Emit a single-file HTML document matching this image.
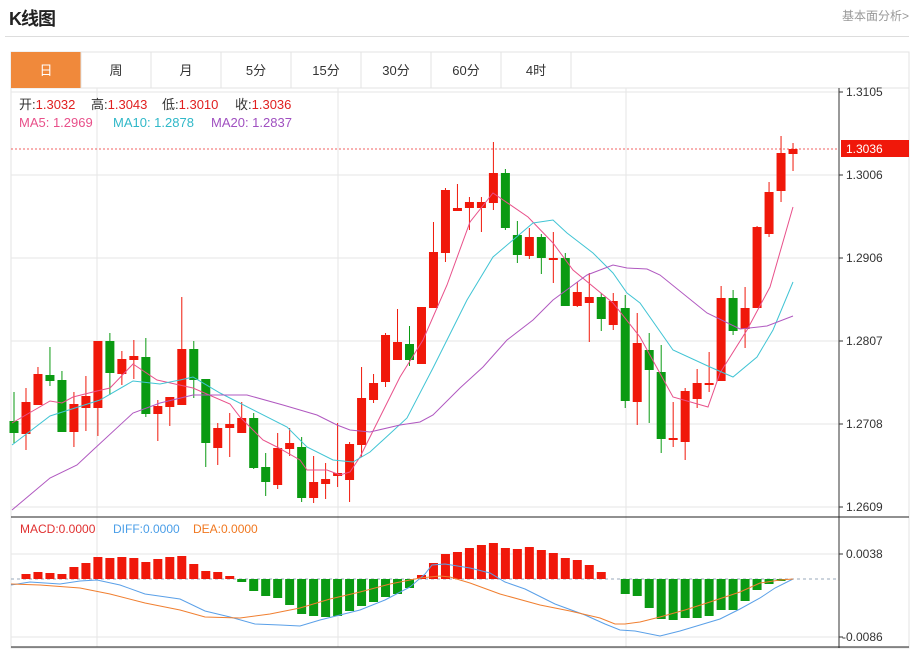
<!DOCTYPE html>
<html><head><meta charset="utf-8"><style>
html,body{margin:0;padding:0;background:#fff;width:919px;height:650px;overflow:hidden;font-family:"Liberation Sans","Noto Sans CJK SC",sans-serif;}
.t{position:absolute;}
</style></head><body>
<div class="t" style="left:9px;top:5px;font-size:18px;font-weight:bold;color:#222;letter-spacing:-1px">K线图</div>
<div class="t" style="left:842px;top:7px;font-size:12px;color:#999">基本面分析&gt;</div>
<div class="t" style="left:5px;top:36px;width:904px;height:1px;background:#ddd"></div>
<svg class="t" style="left:0;top:0" width="919" height="650" id="s" font-family="Liberation Sans, Noto Sans CJK SC, sans-serif">
<rect x="11" y="52" width="898" height="596" fill="none" stroke="#e3e3e3"/>
<line x1="11" y1="88" x2="909" y2="88" stroke="#e3e3e3"/>
<rect x="11" y="52" width="70" height="36" fill="#f0893b"/>
<g stroke="#e3e3e3"><line x1="151" y1="52" x2="151" y2="88"/><line x1="221" y1="52" x2="221" y2="88"/><line x1="291" y1="52" x2="291" y2="88"/><line x1="361" y1="52" x2="361" y2="88"/><line x1="431" y1="52" x2="431" y2="88"/><line x1="501" y1="52" x2="501" y2="88"/><line x1="571" y1="52" x2="571" y2="88"/><line x1="81" y1="52" x2="81" y2="88"/></g>
<g font-size="13" text-anchor="middle" fill="#333"><text x="46" y="75" fill="#fff">日</text><text x="116" y="75">周</text><text x="186" y="75">月</text><text x="256" y="75">5分</text><text x="326" y="75">15分</text><text x="396" y="75">30分</text><text x="466" y="75">60分</text><text x="536" y="75">4时</text></g>
<g stroke="#e6e6e6"><line x1="11" y1="92" x2="839" y2="92"/><line x1="11" y1="175" x2="839" y2="175"/><line x1="11" y1="258" x2="839" y2="258"/><line x1="11" y1="341" x2="839" y2="341"/><line x1="11" y1="424" x2="839" y2="424"/><line x1="11" y1="507" x2="839" y2="507"/>
<line x1="97" y1="88" x2="97" y2="648"/><line x1="338" y1="88" x2="338" y2="648"/><line x1="626" y1="88" x2="626" y2="648"/>
<line x1="11" y1="554" x2="839" y2="554"/><line x1="11" y1="637" x2="839" y2="637"/></g>
<line x1="11" y1="149" x2="839" y2="149" stroke="#f06060" stroke-dasharray="2,2"/>
<g id="c"></g>
<line x1="839" y1="88" x2="839" y2="648" stroke="#333"/>
<line x1="11" y1="517" x2="909" y2="517" stroke="#222"/>
<line x1="11" y1="647" x2="909" y2="647" stroke="#222"/>
<g stroke="#333"><line x1="839" y1="92" x2="843" y2="92"/><line x1="839" y1="175" x2="843" y2="175"/><line x1="839" y1="258" x2="843" y2="258"/><line x1="839" y1="341" x2="843" y2="341"/><line x1="839" y1="424" x2="843" y2="424"/><line x1="839" y1="507" x2="843" y2="507"/><line x1="839" y1="554" x2="843" y2="554"/><line x1="839" y1="637" x2="843" y2="637"/></g>
<g font-size="12" fill="#333"><text x="846" y="96">1.3105</text><text x="846" y="179">1.3006</text><text x="846" y="262">1.2906</text><text x="846" y="345">1.2807</text><text x="846" y="428">1.2708</text><text x="846" y="511">1.2609</text><text x="846" y="558">0.0038</text><text x="842" y="641">-0.0086</text></g>
<rect x="841" y="140" width="68" height="17" fill="#f0180a"/>
<text x="846" y="153" font-size="12" fill="#fff">1.3036</text>
<g font-size="13">
<text x="19" y="109" fill="#333">开:<tspan fill="#e02020">1.3032</tspan></text>
<text x="91" y="109" fill="#333">高:<tspan fill="#e02020">1.3043</tspan></text>
<text x="162" y="109" fill="#333">低:<tspan fill="#e02020">1.3010</tspan></text>
<text x="235" y="109" fill="#333">收:<tspan fill="#e02020">1.3036</tspan></text>
<text x="19" y="127" fill="#e8508a">MA5: 1.2969</text>
<text x="113" y="127" fill="#30b8c8">MA10: 1.2878</text>
<text x="211" y="127" fill="#a050c0">MA20: 1.2837</text>
<text x="20" y="533" font-size="12" fill="#e03030">MACD:0.0000</text>
<text x="113" y="533" font-size="12" fill="#4a9ee8">DIFF:0.0000</text>
<text x="193" y="533" font-size="12" fill="#f07820">DEA:0.0000</text></g>
</svg>
<script>
var C=[[421,433,392,443,0],[402,434,388,450,1],[374,405,367,405,1],[375,381,347,386,0],[380,432,371,432,0],[404,432,392,447,1],[396,408,376,431,1],[341,408,341,436,1],[341,373,333,395,0],[359,374,351,385,1],[356,360,340,379,1],[357,414,338,417,0],[406,414,400,441,1],[397,407,397,426,1],[349,405,297,405,1],[349,380,341,398,0],[379,443,379,467,0],[428,448,423,465,1],[424,428,413,457,1],[418,433,402,433,1],[418,468,413,469,0],[467,482,453,496,0],[448,485,433,489,1],[443,449,428,456,1],[447,498,437,502,0],[482,498,456,503,1],[479,484,463,499,1],[473,476,423,487,1],[444,480,442,502,1],[398,445,367,457,1],[383,400,374,403,1],[335,382,333,387,1],[342,360,309,360,1],[344,360,326,366,0],[307,364,307,364,1],[252,308,222,308,1],[190,253,188,262,1],[208,211,184,211,1],[202,208,197,230,1],[202,208,197,232,1],[173,203,142,210,1],[173,228,169,230,0],[235,255,221,263,0],[237,256,228,259,1],[237,258,234,274,0],[258,260,232,283,1],[258,306,253,306,0],[292,306,282,307,1],[297,303,273,342,1],[297,319,293,331,0],[301,325,293,330,1],[308,401,295,408,0],[343,402,313,425,1],[350,370,333,423,0],[372,439,345,453,0],[438,440,402,447,1],[391,442,388,460,1],[383,399,369,408,1],[383,385,352,392,1],[298,381,286,381,1],[298,331,290,335,0],[308,329,287,348,1],[227,308,226,308,1],[192,234,182,237,1],[153,191,136,202,1],[149,154,143,171,1]];
var R="#f0180a",G="#0a9a12",h="";
function X(i){return 14+i*11.985;}
var M={1:574,2:572,3:573,4:574,5:567,6:563,7:557,8:558,9:557,10:558,11:562,12:559,13:557,14:556,15:564,16:571,17:572,18:576,19:582,20:591,21:596,22:598,23:605,24:614,25:616,26:617,27:616,28:611,29:606,30:602,31:597,32:594,33:588,34:575,35:563,36:554,37:552,38:548,39:545,40:543,41:548,42:549,43:547,44:550,45:553,46:558,47:560,48:565,49:572,51:594,52:596,53:608,54:619,55:620,56:618,57:618,58:616,59:610,60:610,61:601,62:590,63:584,64:581};
h+='<line x1="11" y1="579" x2="839" y2="579" stroke="#9ab" stroke-dasharray="3,3"/>';
for(var k in M){var y=M[k],x=X(+k);var t=Math.min(y,579),hh=Math.abs(y-579);h+='<rect x="'+(x-4.5)+'" y="'+t+'" width="9" height="'+Math.max(hh,1)+'" fill="'+(y<579?R:G)+'"/>';}
C.forEach(function(c,i){var x=X(i),col=c[4]?R:G;h+='<line x1="'+x+'" y1="'+c[2]+'" x2="'+x+'" y2="'+c[3]+'" stroke="'+col+'"/>';h+='<rect x="'+(x-4.5)+'" y="'+c[0]+'" width="9" height="'+Math.max(c[1]-c[0],2)+'" fill="'+col+'"/>';});
function P(a,col){h+='<polyline fill="none" stroke="'+col+'" stroke-width="1" points="'+a+'"/>';}
P("12,423 50,401 62,403 73,397 97,391 110,388 133,364 157,380 193,388 230,404 240,417 263,440 277,447 300,460 307,470 327,470 340,475 350,472 360,457 400,377 423,340 447,285 470,222 493,193 528,217 553,243 573,270 613,303 640,337 673,397 708,407 720,373 747,330 770,287 793,207","#e8508a");
P("12,445 50,416 100,400 133,381 160,384 180,380 193,377 220,393 287,427 307,447 333,460 353,462 370,452 407,418 433,368 467,300 493,257 533,223 553,220 567,233 593,253 613,273 627,293 640,303 673,350 710,367 733,377 757,357 773,330 793,282","#40c4d4");
P("12,510 50,478 77,465 93,450 133,413 160,403 193,395 247,395 283,405 317,415 337,425 350,430 370,432 400,425 420,422 433,415 460,388 483,367 507,340 533,320 553,300 587,275 613,265 627,268 647,269 660,275 707,313 740,329 767,326 793,316","#b058c0");
P("11,585 30,582 60,584 80,581 97,580 120,585 145,594 180,599 205,611 230,617 255,624 280,625 300,626 320,620 340,615 360,610 385,600 410,587 425,574 432,565 445,564 470,568 490,573 505,582 525,589 555,604 585,615 605,624 620,630 635,631 660,636 680,631 700,625 720,619 740,609 760,598 775,588 793,579","#5aa0e8");
P("11,584 40,585 80,588 110,594 145,603 180,610 205,617 240,618 270,614 300,608 330,599 360,592 390,584 420,578 440,576 450,577 470,583 500,594 540,605 570,611 600,618 615,624 625,624 640,622 660,617 685,610 710,602 740,592 760,583 780,580 793,579","#f07f30");
document.getElementById("c").innerHTML=h;
</script>
</body></html>
